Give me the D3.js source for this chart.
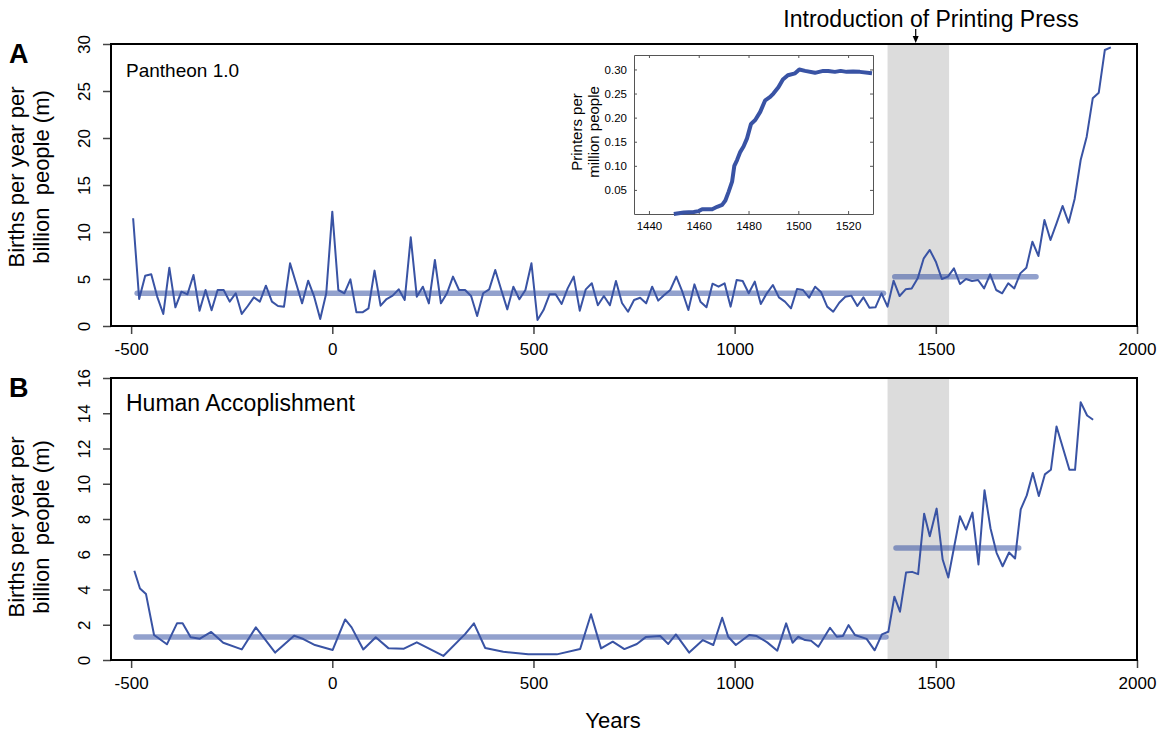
<!DOCTYPE html>
<html>
<head>
<meta charset="utf-8">
<script src="https://cdn.jsdelivr.net/npm/d3@7"></script>
<style>
    body { margin: 0; background: #fff; }
    svg { display: block; font-family: "Liberation Sans", Arial, Helvetica, sans-serif; }
</style>
</head>
<body>
<svg id="chart" width="1164" height="734"></svg>
<script>
// panel A: Pantheon 1.0, births per year per billion people
var yearsA = [-495, -480, -465, -450, -435, -420, -405, -390, -375, -360, -345, -330, -315, -300, -285, -270, -255, -240, -225, -210,
    -195, -180, -165, -150, -135, -120, -105, -90, -75, -60, -45, -30, -15, 0, 15, 30, 45, 60, 75, 90,
    105, 120, 135, 150, 165, 180, 195, 210, 225, 240, 255, 270, 285, 300, 315, 330, 345, 360, 375, 390,
    405, 420, 435, 450, 465, 480, 495, 510, 525, 540, 555, 570, 585, 600, 615, 630, 645, 660, 675, 690,
    705, 720, 735, 750, 765, 780, 795, 810, 825, 840, 855, 870, 885, 900, 915, 930, 945, 960, 975, 990,
    1005, 1020, 1035, 1050, 1065, 1080, 1095, 1110, 1125, 1140, 1155, 1170, 1185, 1200, 1215, 1230, 1245, 1260, 1275, 1290,
    1305, 1320, 1335, 1350, 1365, 1380, 1395, 1410, 1425, 1440, 1455, 1470, 1485, 1500, 1515, 1530, 1545, 1560, 1575, 1590,
    1605, 1620, 1635, 1650, 1665, 1680, 1695, 1710, 1725, 1740, 1755, 1770, 1785, 1800, 1815, 1830, 1845, 1860, 1875, 1890,
    1905, 1920, 1935];
var birthsA = [11.46, 2.87, 5.35, 5.5, 3.1, 1.28, 6.2, 1.99, 3.65, 3.37, 5.43, 1.63, 3.83, 1.67, 3.83, 3.83, 2.59, 3.48, 1.28, 2.13,
    3.05, 2.59, 4.29, 2.59, 2.13, 2.06, 6.67, 4.54, 2.41, 4.82, 3.12, 0.74, 3.48, 12.16, 3.83, 3.48, 4.96, 1.45, 1.45, 1.88,
    5.89, 2.16, 2.87, 3.23, 3.9, 2.77, 9.43, 3.12, 4.18, 2.41, 7.02, 2.41, 3.48, 5.25, 3.83, 3.83, 3.19, 1.06, 3.48, 3.9,
    5.96, 3.83, 1.77, 4.18, 2.84, 3.83, 6.67, 0.64, 1.7, 3.37, 3.37, 2.34, 4.0, 5.25, 1.63, 3.9, 4.54, 2.2, 3.19, 2.2,
    4.79, 2.45, 1.52, 2.77, 3.01, 2.41, 4.18, 2.7, 3.3, 3.83, 5.25, 3.65, 1.7, 4.43, 2.59, 1.99, 4.5, 4.18, 4.54, 2.06,
    4.89, 4.79, 3.48, 4.72, 2.34, 3.48, 4.36, 3.05, 2.59, 1.88, 3.94, 3.83, 3.01, 4.18, 3.58, 2.06, 1.52, 2.48, 3.12, 3.23,
    2.13, 3.05, 1.95, 1.99, 3.48, 2.06, 4.82, 3.19, 3.9, 4.0, 5.07, 7.2, 8.09, 6.84, 5.0, 5.25, 6.13, 4.47, 5.0, 4.79,
    4.89, 4.0, 5.5, 3.83, 3.48, 4.54, 4.0, 5.6, 6.2, 8.97, 7.45, 11.28, 9.15, 10.92, 12.77, 10.99, 13.51, 17.66, 20.14, 24.22,
    24.82, 29.36, 29.65];
var meanYearsA = [[-485, 1370], [1398, 1749]];
var meanValuesA = [3.48, 5.25];

// panel B: Human Accomplishment
var yearsB = [-492, -478, -463, -443, -411, -386, -372, -352, -329, -301, -271, -225, -190, -142, -95, -72, -43, 1, 32, 48,
    77, 108, 140, 178, 210, 276, 330, 352, 380, 425, 487, 558, 616, 643, 668, 697, 726, 757, 779, 815,
    835, 854, 887, 921, 947, 969, 984, 1003, 1036, 1055, 1081, 1106, 1128, 1144, 1158, 1175, 1190, 1208, 1237, 1254,
    1269, 1283, 1299, 1328, 1348, 1366, 1382, 1397, 1411, 1426, 1441, 1456, 1471, 1485, 1502, 1517, 1531, 1560, 1575, 1591,
    1606, 1621, 1636, 1651, 1666, 1682, 1697, 1711, 1726, 1741, 1756, 1771, 1786, 1800, 1832, 1846, 1860, 1876, 1891];
var birthsB = [5.06, 4.06, 3.74, 1.42, 0.89, 2.08, 2.08, 1.29, 1.21, 1.59, 0.98, 0.6, 1.85, 0.42, 1.38, 1.19, 0.85, 0.57, 2.3, 1.85,
    0.6, 1.29, 0.66, 0.64, 1.0, 0.23, 1.47, 2.08, 0.68, 0.47, 0.32, 0.32, 0.62, 2.6, 0.66, 1.04, 0.62, 0.91, 1.3, 1.36,
    0.91, 1.45, 0.42, 1.13, 0.85, 2.4, 1.32, 0.85, 1.42, 1.36, 1.0, 0.53, 2.08, 0.98, 1.32, 1.13, 1.09, 0.75, 1.83, 1.32,
    1.36, 1.98, 1.42, 1.2, 0.55, 1.45, 1.6, 3.59, 2.74, 4.96, 5.0, 4.87, 8.3, 7.02, 8.59, 5.7, 4.68, 8.15, 7.4, 8.36,
    5.42, 9.63, 7.46, 6.08, 5.32, 6.1, 5.76, 8.55, 9.34, 10.61, 9.3, 10.53, 10.79, 13.25, 10.79, 10.79, 14.63, 13.87, 13.63];
var meanYearsB = [[-488, 1376], [1401, 1706]];
var meanValuesB = [1.3, 6.36];

// inset: printers per million people
var insetYears = [1450, 1454, 1458, 1460, 1461.4, 1465.4, 1467.4, 1469.4, 1470.7, 1472, 1473.4, 1474.3, 1475.4, 1476.7, 1478, 1479.4,
    1481, 1482.7, 1484.7, 1486.7, 1488.7, 1490, 1492, 1493.8, 1495.8, 1498.7, 1500.4, 1502.7, 1506.7, 1510, 1512, 1514.7,
    1517, 1519.4, 1522, 1524.7, 1529.6];
var insetPrinters = [0.0, 0.003, 0.004, 0.006, 0.010, 0.010, 0.015, 0.019, 0.028, 0.046, 0.067, 0.10, 0.112, 0.129, 0.14, 0.157,
    0.187, 0.195, 0.212, 0.236, 0.243, 0.25, 0.263, 0.279, 0.288, 0.292, 0.30, 0.297, 0.293, 0.297, 0.297, 0.295,
    0.297, 0.295, 0.296, 0.295, 0.292];

var pressBand = [1380, 1533];
var pressYear = 1450;

var xTicks = [-500, 0, 500, 1000, 1500, 2000];
var yTicksA = [0, 5, 10, 15, 20, 25, 30];
var yTicksB = [0, 2, 4, 6, 8, 10, 12, 14, 16];
var insetTicksX = [1440, 1460, 1480, 1500, 1520];
var insetTicksY = [0.05, 0.10, 0.15, 0.20, 0.25, 0.30];

var lineBlue = "#3953a4";
var svg = d3.select("#chart");

var x = d3.scaleLinear().domain([-550, 2000]).range([111, 1137]);

function drawPanel(opt) {
    var y = d3.scaleLinear().domain(opt.yDomain).range([opt.bottom, opt.top]);
    var g = svg.append("g");

    // printing press band
    g.append("rect")
        .attr("x", x(pressBand[0]))
        .attr("y", opt.top)
        .attr("width", x(pressBand[1]) - x(pressBand[0]))
        .attr("height", opt.bottom - opt.top)
        .attr("fill", "#dcdcdc");

    // mean levels
    opt.meanYears.forEach(function (span, i) {
        g.append("line")
            .attr("x1", x(span[0])).attr("x2", x(span[1]))
            .attr("y1", y(opt.meanValues[i])).attr("y2", y(opt.meanValues[i]))
            .attr("stroke", lineBlue)
            .attr("stroke-opacity", 0.55)
            .attr("stroke-width", 5.5)
            .attr("stroke-linecap", "round");
    });

    var line = d3.line()
        .x(function (d, i) { return x(opt.years[i]); })
        .y(function (d) { return y(d); });
    g.append("path")
        .datum(opt.values)
        .attr("d", line)
        .attr("fill", "none")
        .attr("stroke", lineBlue)
        .attr("stroke-width", 2)
        .attr("stroke-linejoin", "round");

    // x axis
    var xAxis = g.append("g")
        .attr("transform", "translate(0," + opt.bottom + ")")
        .call(d3.axisBottom(x).tickValues(xTicks).tickSizeOuter(0).tickSize(8).tickPadding(9));
    xAxis.select(".domain").remove();
    xAxis.selectAll(".tick line").attr("stroke", "#444").attr("stroke-width", 1.5);
    xAxis.selectAll("text").attr("font-size", 17).attr("fill", "#000").attr("font-family", null)
        .text(function (d) { return d < 0 ? "-" + Math.abs(d) : d; });

    // y axis, labels turned like base R
    var yAxis = g.append("g")
        .attr("transform", "translate(" + x.range()[0] + ",0)")
        .call(d3.axisLeft(y).tickValues(opt.yTicks).tickSizeOuter(0).tickSize(8));
    yAxis.select(".domain").remove();
    yAxis.selectAll(".tick line").attr("stroke", "#444").attr("stroke-width", 1.5);
    yAxis.selectAll("text")
        .attr("font-size", 17).attr("fill", "#000").attr("font-family", null)
        .attr("x", null).attr("dy", null)
        .attr("text-anchor", "middle")
        .attr("transform", "translate(-21,0) rotate(-90)");

    // frame
    g.append("rect")
        .attr("x", x.range()[0]).attr("y", opt.top)
        .attr("width", x.range()[1] - x.range()[0])
        .attr("height", opt.bottom - opt.top)
        .attr("fill", "none")
        .attr("stroke", "#000")
        .attr("stroke-width", 2);

    var mid = (opt.top + opt.bottom) / 2 + opt.labelShift;
    g.append("text")
        .attr("transform", "translate(24," + mid + ") rotate(-90)")
        .attr("text-anchor", "middle")
        .attr("font-size", 22)
        .text("Births per year per");
    g.append("text")
        .attr("transform", "translate(49," + mid + ") rotate(-90)")
        .attr("text-anchor", "middle")
        .attr("font-size", 22)
        .attr("xml:space", "preserve")
        .text("billion  people (m)");

    g.append("text")
        .attr("x", 126).attr("y", opt.top + 33)
        .attr("font-size", opt.nameSize)
        .text(opt.name);
    g.append("text")
        .attr("x", 9).attr("y", opt.top + 19)
        .attr("font-size", 27)
        .attr("font-weight", "bold")
        .text(opt.letter);
}

drawPanel({
    top: 44, bottom: 326, yDomain: [0, 30], yTicks: yTicksA,
    years: yearsA, values: birthsA, meanYears: meanYearsA, meanValues: meanValuesA,
    name: "Pantheon 1.0", nameSize: 19, letter: "A", labelShift: -8
});
drawPanel({
    top: 378, bottom: 660, yDomain: [0, 16], yTicks: yTicksB,
    years: yearsB, values: birthsB, meanYears: meanYearsB, meanValues: meanValuesB,
    name: "Human Accoplishment", nameSize: 23, letter: "B", labelShift: 8
});

// annotation over panel A
var px = x(pressYear);
svg.append("text")
    .attr("x", 931).attr("y", 27)
    .attr("text-anchor", "middle")
    .attr("font-size", 23)
    .text("Introduction of Printing Press");
svg.append("line")
    .attr("x1", px).attr("x2", px).attr("y1", 29).attr("y2", 38)
    .attr("stroke", "#000").attr("stroke-width", 1.2);
svg.append("path")
    .attr("d", d3.line()([[px - 3, 36], [px + 3, 36], [px, 43]]))
    .attr("fill", "#000");

// inset
var ix = d3.scaleLinear().domain([1434, 1530]).range([634, 873]);
var iy = d3.scaleLinear().domain([0, 0.33]).range([214, 55]);
var inset = svg.append("g");
inset.append("rect")
    .attr("x", 634).attr("y", 55)
    .attr("width", 873 - 634).attr("height", 214 - 55)
    .attr("fill", "#fff");

function styleInset(a) {
    a.select(".domain").attr("stroke", "#555");
    a.selectAll(".tick line").attr("stroke", "#555");
    a.selectAll("text").attr("font-size", 11.5).attr("fill", "#000").attr("font-family", null);
}
inset.append("g").attr("transform", "translate(0,214)")
    .call(d3.axisBottom(ix).tickValues(insetTicksX).tickFormat(d3.format("d")).tickSize(-3).tickSizeOuter(0).tickPadding(8))
    .call(styleInset);
inset.append("g").attr("transform", "translate(0,55)")
    .call(d3.axisTop(ix).tickValues(insetTicksX).tickSize(-3).tickSizeOuter(0).tickFormat(""))
    .call(styleInset);
inset.append("g").attr("transform", "translate(634,0)")
    .call(d3.axisLeft(iy).tickValues(insetTicksY).tickSize(-3).tickSizeOuter(0).tickPadding(7).tickFormat(d3.format(".2f")))
    .call(styleInset);
inset.append("g").attr("transform", "translate(873,0)")
    .call(d3.axisRight(iy).tickValues(insetTicksY).tickSize(-3).tickSizeOuter(0).tickFormat(""))
    .call(styleInset);

inset.append("path")
    .datum(insetPrinters)
    .attr("d", d3.line()
        .x(function (d, i) { return ix(insetYears[i]); })
        .y(function (d) { return iy(d); }))
    .attr("fill", "none")
    .attr("stroke", lineBlue)
    .attr("stroke-width", 4)
    .attr("stroke-linejoin", "round");

inset.append("text")
    .attr("transform", "translate(582,132) rotate(-90)")
    .attr("text-anchor", "middle")
    .attr("font-size", 15)
    .text("Printers per");
inset.append("text")
    .attr("transform", "translate(599,132) rotate(-90)")
    .attr("text-anchor", "middle")
    .attr("font-size", 15)
    .text("million people");

// x label
svg.append("text")
    .attr("x", 613).attr("y", 728)
    .attr("text-anchor", "middle")
    .attr("font-size", 22)
    .text("Years");
</script>
</body>
</html>
